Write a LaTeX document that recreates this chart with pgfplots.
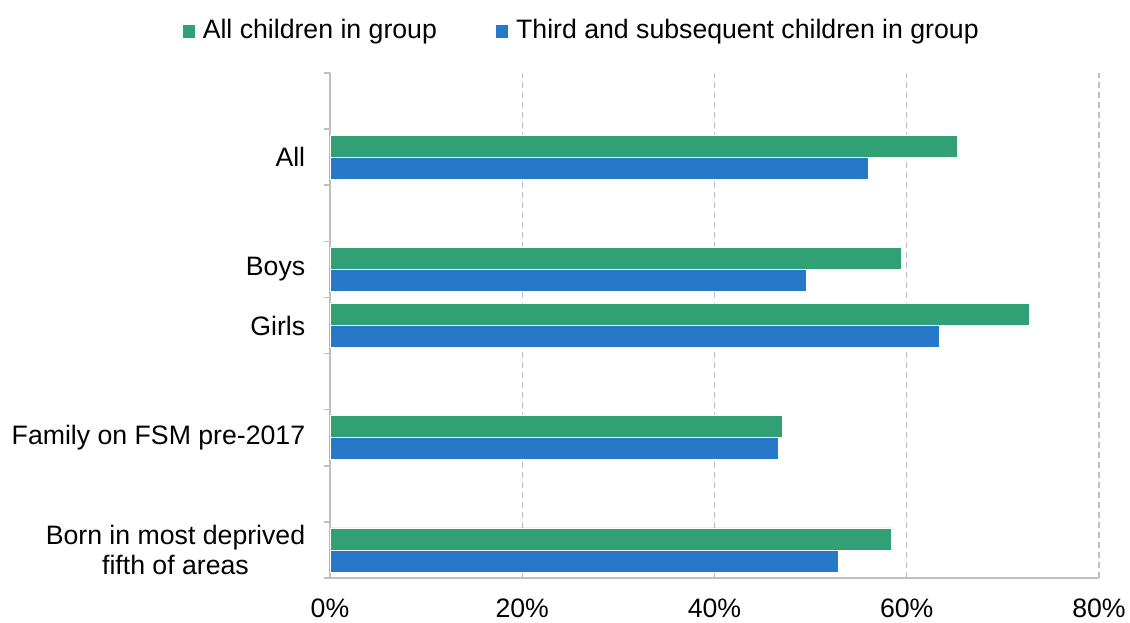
\documentclass[border=0pt]{standalone}
\usepackage{pgfplots}
\pgfplotsset{compat=1.18}
\usepackage{fontspec}
\setmainfont{Liberation Sans}
\definecolor{cgreen}{RGB}{49,160,116}
\definecolor{cblue}{RGB}{39,120,200}
\definecolor{cgrid}{RGB}{191,191,191}
\begin{document}
\fontsize{20}{23}\selectfont
\begin{tikzpicture}
\path[use as bounding box] (-247.5pt,-33pt) rectangle (600pt,433.5pt);
\begin{axis}[
  at={(0,0)}, anchor=south west,
  scale only axis,
  width=576.75pt, height=378.75pt,
  xmin=0, xmax=80, ymin=0, ymax=9,
  xbar, bar width=16.5pt,
  axis x line*=bottom, axis y line*=left,
  axis line style={cgrid, line width=1.1pt},
  xtick={0,20,40,60,80},
  xticklabel={\pgfmathprintnumber{\tick}\%},
  /pgf/number format/assume math mode=true,
  xtick style={draw=none},
  xmajorgrids,
  major grid style={cgrid, line width=0.9pt, dash pattern=on 4.5pt off 3pt},
  ytick={0,1,...,9},
  yticklabels={},
  tick align=outside,
  ytick style={cgrid, line width=1.1pt},
  major tick length=4.5pt,
  extra y ticks={0.5,2.5,4.5,5.5,7.5},
  extra y tick labels={{Born in most deprived\\fifth of areas},{Family on FSM pre-2017},{Girls},{Boys},{All}},
  extra y tick style={major tick length=0pt, yticklabel style={align=center, xshift=-11.75pt}},
  tick label style={font=\fontsize{20}{23}\selectfont, text=black},
  xticklabel style={yshift=-4pt},
  legend style={at={(0.327,1.083)}, anchor=center, draw=none, fill=none,
    legend columns=2, font=\fontsize{20}{23}\selectfont,
    /tikz/every even column/.append style={column sep=41.5pt}},
  legend image code/.code={\path (0pt,0pt) -- (13.5pt,0pt); \fill[#1] (0pt,-5pt) rectangle (10pt,5pt);},
  clip=false,
]
\addplot[fill=cgreen, draw=white, line width=0.4pt, bar shift=8.25pt] coordinates {
(65.3,7.5) (59.4,5.5) (72.7,4.5) (47.1,2.5) (58.4,0.5)};
\addlegendentry{All children in group}
\addplot[fill=cblue, draw=white, line width=0.4pt, bar shift=-8.25pt] coordinates {
(56.0,7.5) (49.5,5.5) (63.4,4.5) (46.6,2.5) (52.9,0.5)};
\addlegendentry{Third and subsequent children in group}
\end{axis}
\end{tikzpicture}
\end{document}
